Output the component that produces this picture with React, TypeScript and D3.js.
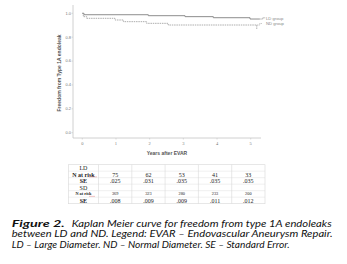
import React, { useEffect, useRef } from 'react';
import * as d3 from 'd3';

// Kaplan-Meier step points: [years, survival]
const ldCurve: [number, number][] = [
  [0, 1.0], [0.05, 0.988], [1.96, 0.98], [3.05, 0.972], [3.89, 0.963], [4.98, 0.952], [5.27, 0.952],
];
const ndCurve: [number, number][] = [
  [0, 1.0], [0.03, 0.972], [0.13, 0.958], [0.97, 0.944], [1.22, 0.93], [1.91, 0.916], [2.55, 0.902], [5.18, 0.902], [5.18, 0.866],
];

const yTicks = [0, 0.2, 0.4, 0.6, 0.8, 1.0];
const xTicks = [0, 1, 2, 3, 4, 5];
const years = [1, 2, 3, 4, 5];

const ldRisk = ['75', '62', '53', '41', '33'];
const ldSE = ['.025', '.031', '.035', '.035', '.035'];
const ndRisk = ['369', '323', '280', '233', '200'];
const ndSE = ['.008', '.009', '.009', '.011', '.012'];

const tableRows = [
  { label: 'LD', bold: false, small: false, values: null as string[] | null },
  { label: 'N at risk', bold: true, small: false, values: ldRisk },
  { label: 'SE', bold: true, small: false, values: ldSE },
  { label: 'SD', bold: false, small: false, values: null as string[] | null },
  { label: 'N at risk', bold: true, small: true, values: ndRisk },
  { label: 'SE', bold: true, small: false, values: ndSE },
];

const captionLines = [
  'between LD and ND. Legend: EVAR \u2013 Endovascular Aneurysm Repair.',
  'LD \u2013 Large Diameter. ND \u2013 Normal Diameter. SE \u2013 Standard Error.',
];

const App: React.FC = () => {
  const svgRef = useRef<SVGSVGElement>(null);

  useEffect(() => {
    if (!svgRef.current) return;
    const svg = d3.select(svgRef.current);
    svg.selectAll('*').remove();

    svg.append('rect').attr('width', 347).attr('height', 264).attr('fill', '#fff');

    const x = d3.scaleLinear().domain([0, 5]).range([82.3, 250.7]);
    const y = d3.scaleLinear().domain([0, 1]).range([132.7, 13.3]);
    const axisColor = '#c4c4c4';
    const x0 = 73;
    const yBottom = 138;

    // frame axes
    svg.append('line').attr('x1', x0).attr('x2', x0).attr('y1', 5).attr('y2', yBottom)
      .attr('stroke', axisColor).attr('stroke-width', 0.8);
    svg.append('line').attr('x1', x0).attr('x2', 261).attr('y1', yBottom).attr('y2', yBottom)
      .attr('stroke', axisColor).attr('stroke-width', 0.8);

    // y ticks
    yTicks.forEach(t => {
      svg.append('line').attr('x1', x0 - 1.5).attr('x2', x0).attr('y1', y(t)).attr('y2', y(t))
        .attr('stroke', axisColor).attr('stroke-width', 0.6);
      svg.append('text').attr('x', 71).attr('y', y(t)).attr('dy', '0.35em')
        .attr('text-anchor', 'end').attr('font-family', 'Arial, Liberation Sans, sans-serif')
        .attr('font-size', 4).attr('fill', '#777').text(t.toFixed(1));
    });

    // x ticks
    xTicks.forEach(t => {
      svg.append('line').attr('x1', x(t)).attr('x2', x(t)).attr('y1', yBottom).attr('y2', yBottom + 1.5)
        .attr('stroke', axisColor).attr('stroke-width', 0.6);
      svg.append('text').attr('x', x(t)).attr('y', 143).attr('dy', '0.35em')
        .attr('text-anchor', 'middle').attr('font-family', 'Liberation Serif, serif')
        .attr('font-size', 4.5).attr('fill', '#777').text(String(t));
    });

    svg.append('text').attr('x', 167).attr('y', 153).attr('dy', '0.35em')
      .attr('text-anchor', 'middle').attr('font-family', 'Arial, Liberation Sans, sans-serif')
      .attr('font-size', 5).attr('font-weight', 'bold').attr('fill', '#555').text('Years after EVAR');

    svg.append('text').attr('transform', 'translate(59,73) rotate(-90)').attr('dy', '0.35em')
      .attr('text-anchor', 'middle').attr('font-family', 'Arial, Liberation Sans, sans-serif')
      .attr('font-size', 5).attr('font-weight', 'bold').attr('fill', '#555')
      .text('Freedom from Type 1A endoleak');

    const line = d3.line<[number, number]>()
      .x(d => x(d[0])).y(d => y(d[1])).curve(d3.curveStepAfter);

    svg.append('path').datum(ldCurve).attr('d', line).attr('fill', 'none')
      .attr('stroke', '#808080').attr('stroke-width', 0.9);
    svg.append('path').datum(ndCurve).attr('d', line).attr('fill', 'none')
      .attr('stroke', '#999').attr('stroke-width', 0.8).attr('stroke-dasharray', '1.5,0.8');

    // legend leaders
    const ldEnd = ldCurve[ldCurve.length - 1];
    const ndEnd = ndCurve[ndCurve.length - 2];
    const leaders = [
      { yv: ldEnd[1], xs: x(ldEnd[0]), label: 'LD group', dash: 'none', ty: 19.3 },
      { yv: ndEnd[1], xs: x(ndEnd[0]), label: 'ND group', dash: '1.2,0.6', ty: 25 },
    ];
    leaders.forEach(l => {
      const yy = y(l.yv);
      svg.append('path')
        .attr('d', `M${l.xs},${yy}H${l.xs + 3}V${l.ty - 1.5}H${l.xs + 5.5}`)
        .attr('fill', 'none').attr('stroke', '#999').attr('stroke-width', 0.6)
        .attr('stroke-dasharray', l.dash);
      svg.append('text').attr('x', 266).attr('y', l.ty - 1).attr('dy', '0.35em')
        .attr('font-family', 'Arial, Liberation Sans, sans-serif').attr('font-size', 4.2)
        .attr('fill', '#888').text(l.label);
    });

    // table
    const tableLeft = 68.3;
    const colScale = d3.scaleBand<number>().domain(years).range([98.5, 265]);
    const rowScale = d3.scaleBand<number>().domain(d3.range(tableRows.length)).range([164.7, 203.7]);
    const gridColor = '#d8d8d8';
    const tg = svg.append('g');
    tg.append('rect').attr('x', tableLeft).attr('y', 164.7).attr('width', 265 - tableLeft).attr('height', 39)
      .attr('fill', 'none').attr('stroke', gridColor).attr('stroke-width', 0.6);
    [98.5, ...years.slice(1).map(yr => colScale(yr)!)].forEach(cx => {
      tg.append('line').attr('x1', cx).attr('x2', cx).attr('y1', 164.7).attr('y2', 203.7)
        .attr('stroke', gridColor).attr('stroke-width', 0.6);
    });
    d3.range(1, tableRows.length).forEach(i => {
      tg.append('line').attr('x1', tableLeft).attr('x2', 265).attr('y1', rowScale(i)!).attr('y2', rowScale(i)!)
        .attr('stroke', gridColor).attr('stroke-width', 0.4);
    });

    tableRows.forEach((row, i) => {
      const cy = rowScale(i)! + rowScale.bandwidth() / 2;
      const fs = row.small ? 4.3 : 6;
      tg.append('text').attr('x', 83.4).attr('y', cy).attr('dy', '0.35em').attr('text-anchor', 'middle')
        .attr('font-family', 'Liberation Serif, Times New Roman, serif').attr('font-size', fs)
        .attr('font-weight', row.bold ? 'bold' : 'normal').attr('fill', '#222').text(row.label);
      if (row.label === 'N at risk') {
        tg.append('line').attr('x1', 89).attr('x2', row.small ? 95 : 97).attr('y1', cy + 2.4).attr('y2', cy + 2.4)
          .attr('stroke', '#e07070').attr('stroke-width', 0.4);
      }
      if (row.values) {
        row.values.forEach((v, j) => {
          tg.append('text').attr('x', colScale(years[j])! + colScale.bandwidth() / 2).attr('y', cy).attr('dy', '0.35em')
            .attr('text-anchor', 'middle').attr('font-family', 'Liberation Serif, Times New Roman, serif')
            .attr('font-size', fs).attr('fill', '#222').text(v);
        });
      }
    });

    // caption
    const capFont = 'Lato, Open Sans, sans-serif';
    svg.append('text').attr('x', 11.7).attr('y', 226.5).attr('font-family', capFont)
      .attr('font-size', 10).attr('font-weight', 'bold').attr('font-style', 'italic').attr('fill', '#111')
      .attr('textLength', 53).attr('lengthAdjust', 'spacingAndGlyphs').text('Figure 2.');
    svg.append('text').attr('x', 71.7).attr('y', 226.5).attr('font-family', capFont)
      .attr('font-size', 10).attr('font-style', 'italic').attr('fill', '#111')
      .attr('textLength', 260).attr('lengthAdjust', 'spacingAndGlyphs')
      .text('Kaplan Meier curve for freedom from type 1A endoleaks');
    const capWidths = [321, 278];
    captionLines.forEach((l, i) => {
      svg.append('text').attr('x', 11.7).attr('y', 237 + i * 10.5).attr('font-family', capFont)
        .attr('font-size', 10).attr('font-style', 'italic').attr('fill', '#111')
        .attr('textLength', capWidths[i]).attr('lengthAdjust', 'spacingAndGlyphs').text(l);
    });
  }, []);

  return (
    <div style={{ position: 'fixed', left: 0, top: 0 }}>
      <svg ref={svgRef} width={347} height={264} style={{ display: 'block' }} />
    </div>
  );
};

export default App;
